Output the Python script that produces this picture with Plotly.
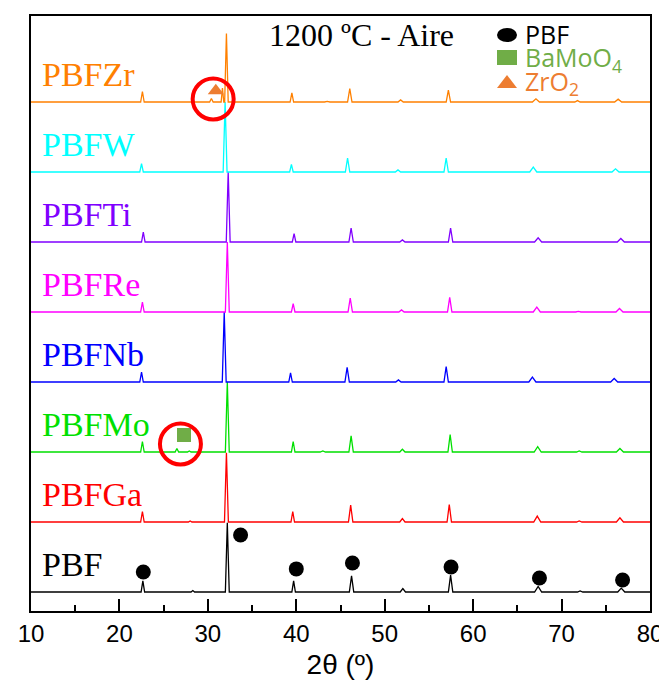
import plotly.graph_objects as go

# ---------------- data ----------------
SAMPLES = ["PBF", "PBFGa", "PBFMo", "PBFNb", "PBFRe", "PBFTi", "PBFW", "PBFZr"]
COLORS = ["#000000", "#ff0000", "#00e000", "#0000ff", "#ff00ff", "#8000ff", "#00ffff", "#ff8000"]
STACK_STEP = 1.0  # vertical offset between normalised patterns

# (2theta, normalised intensity, half base width) for each visible reflection
PBF_PEAKS = [(22.65, 0.16, 0.2), (28.3, 0.02, 0.2), (32.2, 0.99, 0.22), (39.7, 0.16, 0.2),
             (46.25, 0.23, 0.25), (52.05, 0.05, 0.3), (57.45, 0.24, 0.25), (67.35, 0.08, 0.4),
             (72.1, 0.015, 0.3), (76.75, 0.055, 0.4)]
PBFGA_PEAKS = [(22.6, 0.15, 0.2), (28.0, 0.015, 0.2), (32.1, 0.99, 0.22), (39.6, 0.15, 0.2),
               (46.15, 0.24, 0.25), (52.0, 0.05, 0.3), (57.3, 0.25, 0.25), (67.25, 0.085, 0.4),
               (72.0, 0.015, 0.3), (76.6, 0.06, 0.4)]
PBFMO_PEAKS = [(22.6, 0.15, 0.2), (26.5, 0.05, 0.2), (27.9, 0.015, 0.2), (32.2, 1.0, 0.22),
               (39.65, 0.15, 0.2), (43.0, 0.015, 0.3), (46.2, 0.23, 0.25), (52.0, 0.04, 0.3),
               (57.4, 0.25, 0.25), (67.3, 0.075, 0.4), (72.0, 0.015, 0.3), (76.6, 0.05, 0.4)]
PBFNB_PEAKS = [(22.5, 0.14, 0.2), (31.85, 1.0, 0.22), (39.35, 0.13, 0.2), (45.75, 0.21, 0.25),
               (51.55, 0.03, 0.3), (56.95, 0.22, 0.25), (66.7, 0.07, 0.4), (75.95, 0.05, 0.4)]
PBFRE_PEAKS = [(22.6, 0.14, 0.2), (32.2, 1.0, 0.22), (39.65, 0.12, 0.2), (46.1, 0.2, 0.25),
               (51.9, 0.03, 0.3), (57.35, 0.21, 0.25), (67.2, 0.07, 0.4), (71.9, 0.01, 0.3),
               (76.55, 0.05, 0.4)]
PBFTI_PEAKS = [(22.7, 0.14, 0.2), (32.3, 1.0, 0.22), (39.75, 0.12, 0.2), (46.2, 0.2, 0.25),
               (52.0, 0.03, 0.3), (57.45, 0.2, 0.25), (67.35, 0.06, 0.4), (76.7, 0.05, 0.4)]
PBFW_PEAKS = [(22.5, 0.12, 0.2), (31.95, 1.0, 0.22), (39.45, 0.11, 0.2), (45.8, 0.2, 0.25),
              (51.5, 0.03, 0.3), (56.95, 0.2, 0.25), (66.8, 0.07, 0.4), (76.1, 0.045, 0.4)]
PBFZR_PEAKS = [(22.6, 0.15, 0.2), (30.4, 0.05, 0.2), (31.65, 0.2, 0.15), (32.1, 0.98, 0.2),
               (39.5, 0.13, 0.2), (43.5, 0.01, 0.3), (46.05, 0.19, 0.25), (51.8, 0.03, 0.3),
               (57.2, 0.17, 0.25), (67.1, 0.045, 0.4), (71.8, 0.02, 0.3), (76.4, 0.04, 0.4)]
ALL_PEAKS = [PBF_PEAKS, PBFGA_PEAKS, PBFMO_PEAKS, PBFNB_PEAKS,
             PBFRE_PEAKS, PBFTI_PEAKS, PBFW_PEAKS, PBFZR_PEAKS]
TWO_THETA_RANGE = [10, 80]

# phase markers (2theta, height above own pattern baseline)
PBF_MARK_2THETA = [22.7, 33.7, 40.0, 46.35, 57.5, 67.5, 76.9]
PBF_MARK_Y = [0.286, 0.814, 0.33, 0.414, 0.357, 0.2, 0.171]
BAMOO4_MARK = (27.3, 0.243)      # on PBFMo (index 2)
ZRO2_MARK = (30.9, 0.16)         # on PBFZr (index 7)
HIGHLIGHTS = [(26.9, 0.114, 2), (30.6, 0.043, 7)]

PHASE_NAMES = ["PBF", "BaMoO<sub>4</sub>", "ZrO<sub>2</sub>"]
PHASE_COLORS = ["#000000", "#70ad47", "#ed7d31"]

# ---------------- geometry (page pixels; page body has an 8px margin) ----------------
BODY = 8
W, H = 667 - BODY, 681 - BODY
PLOT_L, PLOT_R, PLOT_T, PLOT_B = 31, 650, 16, 611   # plot box in page pixels
L, R, T, B = PLOT_L - BODY, 667 - PLOT_R, PLOT_T - BODY, 681 - PLOT_B
PW, PH = PLOT_R - PLOT_L, PLOT_B - PLOT_T
PX_PER_UNIT = 70.0
Y0 = -19 / PX_PER_UNIT
Y1 = Y0 + PH / PX_PER_UNIT


def px_x(px):
    return (px - PLOT_L) / PW


def px_y(py):
    return (PLOT_B - py) / PH


fig = go.Figure()

for i, (name, color, peaks) in enumerate(zip(SAMPLES, COLORS, ALL_PEAKS)):
    xs = [TWO_THETA_RANGE[0]]
    ys = [0.0]
    for p, h, w in sorted(peaks):
        xs += [p - w, p, p + w]
        ys += [0.0, h, 0.0]
    xs.append(TWO_THETA_RANGE[1])
    ys.append(0.0)
    off = i * STACK_STEP
    fig.add_trace(go.Scatter(x=xs, y=[v + off for v in ys], mode="lines",
                             line=dict(color=color, width=1.3), name=name,
                             showlegend=False, hoverinfo="skip"))

# PBF phase dots
fig.add_trace(go.Scatter(x=PBF_MARK_2THETA, y=PBF_MARK_Y, mode="markers",
                         marker=dict(symbol="circle", size=15, color="black"),
                         showlegend=False, hoverinfo="skip"))
# BaMoO4 square
fig.add_trace(go.Scatter(x=[BAMOO4_MARK[0]], y=[BAMOO4_MARK[1] + 2 * STACK_STEP], mode="markers",
                         marker=dict(symbol="square", size=14, color=PHASE_COLORS[1]),
                         showlegend=False, hoverinfo="skip"))
# ZrO2 triangle
fig.add_trace(go.Scatter(x=[ZRO2_MARK[0]], y=[ZRO2_MARK[1] + 7 * STACK_STEP], mode="markers",
                         marker=dict(symbol="triangle-up", size=14, color=PHASE_COLORS[2]),
                         showlegend=False, hoverinfo="skip"))
# red highlight circles
fig.add_trace(go.Scatter(x=[h[0] for h in HIGHLIGHTS],
                         y=[h[1] + h[2] * STACK_STEP for h in HIGHLIGHTS], mode="markers",
                         marker=dict(symbol="circle-open", size=41, color="#ff0000",
                                     line=dict(width=4, color="#ff0000")),
                         showlegend=False, hoverinfo="skip"))

annotations = []
serif = "Liberation Serif, Times New Roman, serif"
for i, (name, color) in enumerate(zip(SAMPLES, COLORS)):
    annotations.append(dict(x=px_x(40), xref="paper", xanchor="left",
                            y=i * STACK_STEP + 0.386, yref="y", yanchor="middle",
                            text=name, showarrow=False,
                            font=dict(family=serif, size=34, color=color)))
annotations.append(dict(x=px_x(361), y=px_y(35), xref="paper", yref="paper",
                        xanchor="center", yanchor="middle", text="1200 ºC - Aire",
                        showarrow=False, font=dict(family=serif, size=32, color="black")))

# phase key: one multi-line text block (tight line spacing as in the reference)
sans = "Open Sans, Liberation Sans, sans-serif"
key_lines = ["<span style='font-size:25px;color:%s'>%s</span>" % (c, n)
             for n, c in zip(PHASE_NAMES, PHASE_COLORS)]
annotations.append(dict(x=px_x(523), y=px_y(59), xref="paper", yref="paper",
                        xanchor="left", yanchor="middle", align="left",
                        text="<br>".join(key_lines), showarrow=False,
                        font=dict(family=sans, size=18, color="black")))

shapes = [
    # key symbols
    dict(type="circle", xref="paper", yref="paper", xsizemode="pixel", ysizemode="pixel",
         xanchor=px_x(507), yanchor=px_y(35), x0=-10, x1=10, y0=-7, y1=7,
         fillcolor=PHASE_COLORS[0], line=dict(width=0)),
    dict(type="rect", xref="paper", yref="paper", xsizemode="pixel", ysizemode="pixel",
         xanchor=px_x(507), yanchor=px_y(57.5), x0=-10, x1=10, y0=-7.5, y1=7.5,
         fillcolor=PHASE_COLORS[1], line=dict(width=0)),
    dict(type="path", xref="paper", yref="paper", xsizemode="pixel", ysizemode="pixel",
         xanchor=px_x(507), yanchor=px_y(81.5), path="M -10,-6.5 L 10,-6.5 L 0,6.5 Z",
         fillcolor=PHASE_COLORS[2], line=dict(width=0)),
]

fig.update_layout(
    width=W, height=H,
    margin=dict(l=L, r=R, t=T, b=B, pad=0),
    paper_bgcolor="white", plot_bgcolor="white",
    showlegend=False,
    annotations=annotations,
    shapes=shapes,
    xaxis=dict(range=TWO_THETA_RANGE, dtick=10, tick0=10, ticks="inside", ticklen=12,
               tickwidth=2, tickcolor="black", showline=True, linecolor="black", linewidth=2,
               mirror=True, showgrid=False, zeroline=False, automargin=False,
               minor=dict(dtick=5, tick0=10, ticks="inside", ticklen=6, tickwidth=2,
                          tickcolor="black", showgrid=False),
               tickfont=dict(family="Liberation Sans, Arial, sans-serif", size=24, color="black"),
               title=dict(text="2θ (º)", standoff=9,
                          font=dict(family="Liberation Sans, Arial, sans-serif", size=28,
                                    color="black"))),
    yaxis=dict(range=[Y0, Y1], showline=True, linecolor="black", linewidth=2, mirror=True,
               showticklabels=False, ticks="", showgrid=False, zeroline=False,
               automargin=False),
)

fig.write_html("out.html")
